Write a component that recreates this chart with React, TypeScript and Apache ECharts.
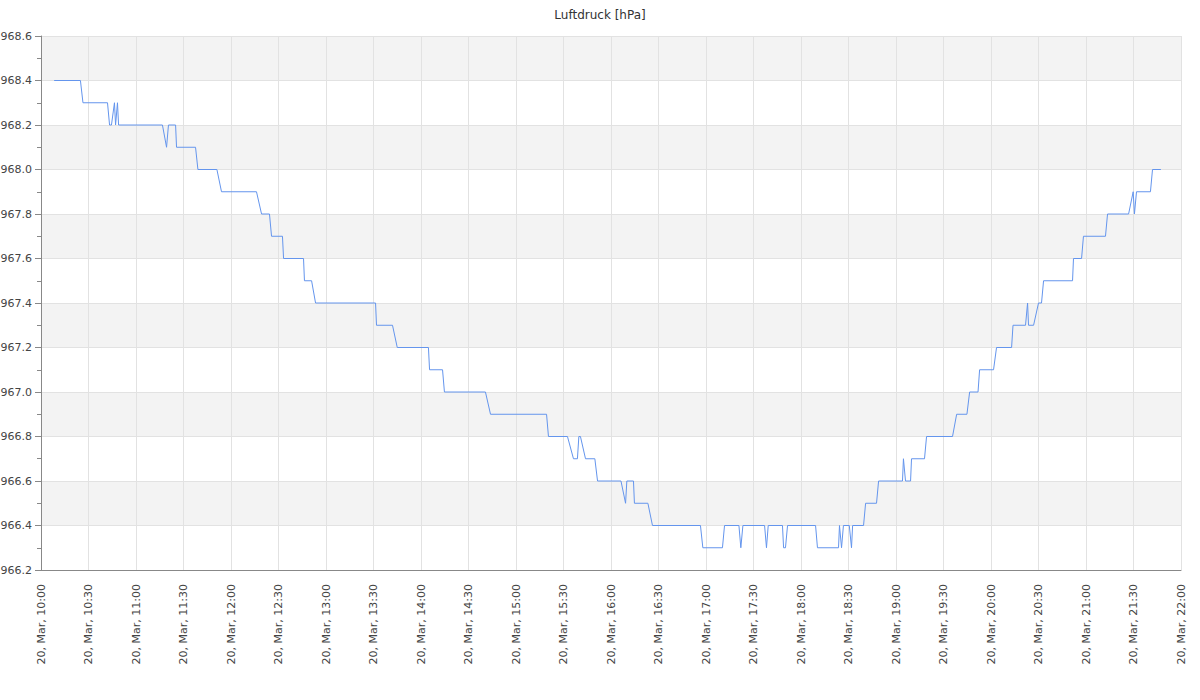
import React, { useEffect, useRef } from "react";
import * as echarts from "echarts";

const titleText = "Luftdruck [hPa]";
const day = "2024-03-20";
const axisStart = "10:00:00";
const axisEnd = "22:00:00";

const times: string[] = [
  "10:08:18", "10:24:54", "10:26:30", "10:42:00", "10:43:18", "10:44:30", "10:46:24", "10:47:06", "10:48:18", "10:49:00",
  "11:16:42", "11:19:18", "11:20:30", "11:25:00", "11:25:36", "11:37:36", "11:39:06", "11:51:06", "11:54:00",
  "12:16:06", "12:19:18", "12:24:18", "12:25:36", "12:32:30", "12:33:12", "12:45:48", "12:46:24", "12:50:54", "12:53:24",
  "13:31:18", "13:31:54", "13:42:00", "13:45:00",
  "14:04:42", "14:05:24", "14:13:36", "14:14:48", "14:40:42", "14:43:54",
  "15:19:18", "15:20:30", "15:32:30", "15:36:18", "15:38:48", "15:39:42", "15:40:42", "15:43:54", "15:49:48", "15:51:30",
  "16:06:18", "16:09:12", "16:10:00", "16:14:12", "16:14:48", "16:23:18", "16:26:12", "16:56:30", "16:58:00",
  "17:10:24", "17:11:42", "17:20:48", "17:22:00", "17:23:18", "17:37:00", "17:38:12", "17:39:18", "17:48:18", "17:49:00", "17:50:12", "17:51:30",
  "18:09:12", "18:10:24", "18:23:42", "18:24:18", "18:25:36", "18:26:48", "18:30:30", "18:31:54", "18:32:36", "18:39:30", "18:40:48", "18:47:42", "18:49:00",
  "19:04:06", "19:04:42", "19:06:00", "19:09:12", "19:09:48", "19:18:00", "19:19:18", "19:35:42", "19:38:18", "19:44:48", "19:46:30", "19:51:48", "19:52:48",
  "20:01:36", "20:03:30", "20:13:00", "20:13:54", "20:21:48", "20:23:06", "20:23:42", "20:26:54", "20:30:00", "20:31:54", "20:33:12", "20:51:30", "20:52:06", "20:57:12", "20:58:24",
  "21:12:18", "21:13:36", "21:26:54", "21:29:48", "21:30:36", "21:31:54", "21:40:42", "21:42:00", "21:47:18",
];

const pressure: number[] = [
  968.4, 968.4, 968.3, 968.3, 968.2, 968.2, 968.3, 968.2, 968.3, 968.2,
  968.2, 968.1, 968.2, 968.2, 968.1, 968.1, 968.0, 968.0, 967.9,
  967.9, 967.8, 967.8, 967.7, 967.7, 967.6, 967.6, 967.5, 967.5, 967.4,
  967.4, 967.3, 967.3, 967.2,
  967.2, 967.1, 967.1, 967.0, 967.0, 966.9,
  966.9, 966.8, 966.8, 966.7, 966.7, 966.8, 966.8, 966.7, 966.7, 966.6,
  966.6, 966.5, 966.6, 966.6, 966.5, 966.5, 966.4, 966.4, 966.3,
  966.3, 966.4, 966.4, 966.3, 966.4, 966.4, 966.3, 966.4, 966.4, 966.3, 966.3, 966.4,
  966.4, 966.3, 966.3, 966.4, 966.3, 966.4, 966.4, 966.3, 966.4, 966.4, 966.5, 966.5, 966.6,
  966.6, 966.7, 966.6, 966.6, 966.7, 966.7, 966.8, 966.8, 966.9, 966.9, 967.0, 967.0, 967.1,
  967.1, 967.2, 967.2, 967.3, 967.3, 967.4, 967.3, 967.3, 967.4, 967.4, 967.5, 967.5, 967.6, 967.6, 967.7,
  967.7, 967.8, 967.8, 967.9, 967.8, 967.9, 967.9, 968.0, 968.0,
];

const yMin = 966.2;
const yMax = 968.6;
const yStep = 0.2;
const tickMinutes = 30;

// UTC-based timestamps so that axis min is an exact multiple of the 30-minute interval
const toMs = (t: string) => new Date(`${day}T${t}Z`).getTime();
const pad = (n: number) => String(n).padStart(2, "0");

export default function App() {
  const ref = useRef<HTMLDivElement>(null);
  useEffect(() => {
    if (!ref.current) return;
    const chart = echarts.init(ref.current, undefined, { renderer: "svg" });
    const font = "DejaVu Sans";
    const step = tickMinutes * 60 * 1000;
    chart.setOption({
      animation: false,
      title: {
        text: titleText,
        left: "center",
        top: 4,
        textStyle: { fontFamily: font, fontSize: 12, fontWeight: "normal", color: "#333" },
      },
      grid: { left: 41, right: 19, top: 36, bottom: 130, containLabel: false, outerBoundsMode: "none" },
      xAxis: {
        type: "value",
        min: toMs(axisStart),
        max: toMs(axisEnd),
        interval: step,
        axisLine: { show: true, lineStyle: { color: "#888", width: 1 } },
        axisTick: { show: false },
        splitLine: { show: true, lineStyle: { color: "#e2e2e2", width: 1 } },
        axisLabel: {
          rotate: 90,
          margin: 14,
          fontFamily: font,
          fontSize: 11,
          color: "#444",
          hideOverlap: false,
          showMinLabel: true,
          showMaxLabel: true,
          formatter: (v: number) => {
            const d = new Date(v);
            return `20, Mar, ${pad(d.getUTCHours())}:${pad(d.getUTCMinutes())}`;
          },
        },
      },
      yAxis: {
        type: "value",
        min: yMin,
        max: yMax,
        interval: yStep,
        axisLine: { show: true, lineStyle: { color: "#888", width: 1 } },
        axisTick: { show: true, length: 6, lineStyle: { color: "#888" } },
        minorTick: { show: true, splitNumber: 2, length: 4, lineStyle: { color: "#888" } },
        splitLine: { show: true, lineStyle: { color: "#e2e2e2", width: 1 } },
        splitArea: { show: true, areaStyle: { color: ["#ffffff", "#f3f3f3"] } },
        axisLabel: {
          margin: 9,
          fontFamily: font,
          fontSize: 11,
          color: "#444",
          formatter: (v: number) => v.toFixed(1),
        },
      },
      series: [
        {
          type: "line",
          data: times.map((t, i) => [toMs(t), pressure[i]]),
          showSymbol: false,
          symbol: "none",
          lineStyle: { color: "#6495ed", width: 1 },
        },
      ],
    });
    return () => chart.dispose();
  }, []);
  return (
    <div
      ref={ref}
      style={{ position: "absolute", left: 0, top: 0, width: 1200, height: 700 }}
    />
  );
}
